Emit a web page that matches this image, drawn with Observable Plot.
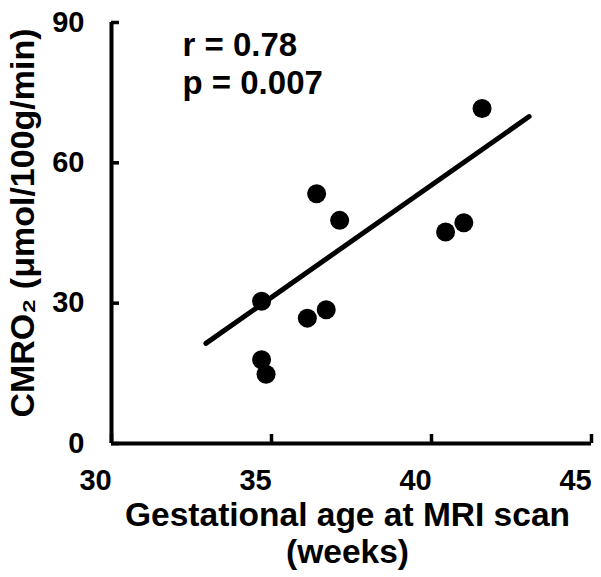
<!DOCTYPE html>
<html>
<head>
<meta charset="utf-8">
<script src="https://cdn.jsdelivr.net/npm/d3@7"></script>
<script src="https://cdn.jsdelivr.net/npm/@observablehq/plot@0.6"></script>
<style>
  html, body { margin: 0; padding: 0; background: #fff; }
</style>
</head>
<body>
<div id="chart"></div>
<script>
// Data
const gestAge = [41.58, 36.41, 37.13, 40.44, 41.01, 34.69, 36.12, 36.71, 34.69, 34.83];
const cmro2   = [71.6, 53.4, 47.7, 45.2, 47.2, 30.4, 26.8, 28.6, 17.9, 14.8];
const fitX = [32.95, 43.05];
const fitY = [21.4, 69.9];
const xTicks = [30, 35, 40, 45];
const yTicks = [0, 30, 60, 90];
const annotation = "r = 0.78\np = 0.007";
const xTitle = "Gestational age at MRI scan\n(weeks)";
const yTitle = "CMRO₂ (μmol/100g/min)";

const points = gestAge.map((x, i) => ({x, y: cmro2[i]}));
const fit = fitX.map((x, i) => ({x, y: fitY[i]}));

const font = "'Liberation Sans', Arial, Helvetica, sans-serif";

const chart = Plot.plot({
  width: 601,
  height: 577,
  marginLeft: 111,
  marginRight: 10,
  marginTop: 22,
  marginBottom: 134,
  style: {fontFamily: font, fontSize: "29px", fontWeight: "bold", color: "#000", background: "#fff", overflow: "visible"},
  x: {domain: [30, 45]},
  y: {domain: [0, 90]},
  marks: [
    // x tick marks (inward)
    Plot.axisX(xTicks, {tickSize: -9, tickFormat: () => "", strokeWidth: 3.5, label: null}),
    // x tick labels (offset to the left as in the reference)
    Plot.axisX(xTicks, {tickSize: 0, tickPadding: 26, dx: -16, fontSize: 29, label: null}),
    Plot.axisY(yTicks, {tickSize: -8, tickPadding: 35, strokeWidth: 3.5, fontSize: 29, label: null}),
    Plot.ruleY([0], {strokeWidth: 4, stroke: "#000"}),
    Plot.ruleX([30], {strokeWidth: 4, stroke: "#000"}),
    Plot.line(fit, {x: "x", y: "y", stroke: "#000", strokeWidth: 5, strokeLinecap: "round"}),
    Plot.dot(points, {x: "x", y: "y", r: 9.5, fill: "#000", stroke: "none"}),
    Plot.text([annotation], {frameAnchor: "top-left", textAnchor: "start", lineAnchor: "top", dx: 71, dy: 7, fontSize: 33, lineHeight: 1.15, fill: "#000"}),
    Plot.text([xTitle], {frameAnchor: "bottom", lineAnchor: "top", dx: -4, dy: 56, fontSize: 33.5, lineHeight: 1.1, fill: "#000"}),
    Plot.text([yTitle], {frameAnchor: "left", textAnchor: "middle", rotate: -90, lineAnchor: "middle", dx: -88, dy: -10, fontSize: 34, fill: "#000"})
  ]
});
document.getElementById("chart").appendChild(chart);
</script>
</body>
</html>
